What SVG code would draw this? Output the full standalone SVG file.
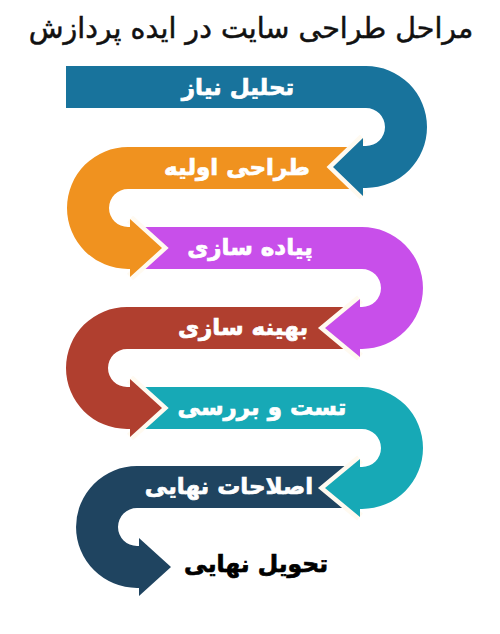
<svg xmlns="http://www.w3.org/2000/svg" width="500" height="634" viewBox="0 0 500 634">
<style>
.lbl{font-family:"DejaVu Sans","Noto Sans",sans-serif;font-weight:bold;font-size:23px;fill:#fff;stroke:#fff;stroke-width:0.7;text-anchor:middle}
.gap{fill:none;stroke:#fffaf0;stroke-width:9;stroke-linejoin:miter}
.title{font-family:"DejaVu Sans","Noto Sans",sans-serif;font-size:28.5px;fill:#111;stroke:#111;stroke-width:0.5;text-anchor:middle}
.final{font-family:"DejaVu Sans","Noto Sans",sans-serif;font-weight:bold;font-size:23.5px;fill:#000;stroke:#000;stroke-width:0.7;text-anchor:middle}
</style>
<rect width="500" height="634" fill="#fff"/>
<text class="title" x="251" y="38">مراحل طراحی سایت در ایده پردازش</text>
<g id="connectors">
<g id="step6">
<path d="M358 466 H137 A61 61 0 0 0 137 588 H139 V596 L171 567 L139 538 V546 H137 A19 19 0 0 1 137 508 H358 Z" fill="#1f4460"/>
<text class="lbl" x="229" y="494">اصلاحات نهایی</text>
</g>
<g id="step5">
<polyline class="gap" points="360,459 325,488 360,517"/>
<path d="M131 387 H362 A61 61 0 0 1 362 509 H360 V517 L325 488 L360 459 V467 H362 A19 19 0 0 0 362 429 H131 Z" fill="#17a9b6"/>
<text class="lbl" x="262" y="415">تست و بررسی</text>
</g>
<g id="step4">
<polyline class="gap" points="130,379 162,408 130,437"/>
<path d="M358 307 H127 A61 61 0 0 0 127 429 H130 V437 L162 408 L130 379 V387 H127 A19 19 0 0 1 127 349 H358 Z" fill="#b03f2f"/>
<text class="lbl" x="243" y="335">بهینه سازی</text>
</g>
<g id="step3">
<polyline class="gap" points="360,299 325,328 360,357"/>
<path d="M132 227 H362 A61 61 0 0 1 362 349 H360 V357 L325 328 L360 299 V307 H362 A19 19 0 0 0 362 269 H132 Z" fill="#c84fea"/>
<text class="lbl" x="250" y="255">پیاده سازی</text>
</g>
<g id="step2">
<polyline class="gap" points="130,219 162,248 130,277"/>
<path d="M360 147 H128 A61 61 0 0 0 128 269 H130 V277 L162 248 L130 219 V227 H128 A19 19 0 0 1 128 189 H360 Z" fill="#f0921f"/>
<text class="lbl" x="237" y="175">طراحی اولیه</text>
</g>
<g id="step1">
<polyline class="gap" points="363,138 333,167 363,196"/>
<path d="M66 66 H366 A61 61 0 0 1 366 188 H363 V196 L333 167 L363 138 V146 H366 A19 19 0 0 0 366 108 H66 Z" fill="#18739c"/>
<text class="lbl" x="238" y="95">تحلیل نیاز</text>
</g>
</g>
<g id="step7">
<text class="final" x="256" y="572">تحویل نهایی</text>
</g>
</svg>
